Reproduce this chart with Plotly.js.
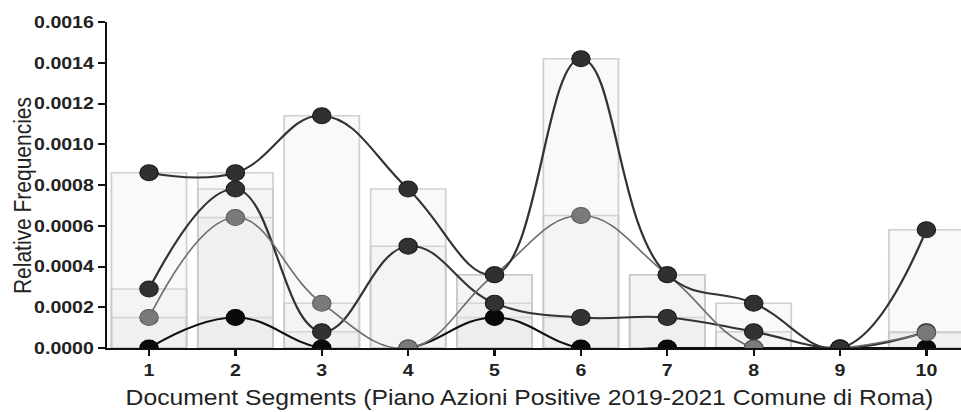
<!DOCTYPE html>
<html>
<head>
<meta charset="utf-8">
<script src="https://cdn.plot.ly/plotly-3.0.1.min.js"></script>
<style>
  html, body { margin: 0; padding: 0; background: #fff; }
  #wrap { width: 961px; height: 412px; overflow: hidden; position: relative; }
  #chart { width: 836px; height: 412px; transform: scaleX(1.15); transform-origin: 0 0; }
</style>
</head>
<body>
<div id="wrap"><div id="chart"></div></div>
<script>
// Document segments
const segments = [1, 2, 3, 4, 5, 6, 7, 8, 9, 10];
const tickLabelsY = ["0.0000", "0.0002", "0.0004", "0.0006", "0.0008", "0.0010", "0.0012", "0.0014", "0.0016"];
const tickValsY = [0, 0.0002, 0.0004, 0.0006, 0.0008, 0.0010, 0.0012, 0.0014, 0.0016];

// Relative frequencies per term
const termA = [0.00086, 0.00086, 0.00114, 0.00078, 0.00036, 0.00142, 0.00036, 0.00022, 0, 0.00058];
const termB = [0.00029, 0.00078, 0.00008, 0.00050, 0.00022, 0.00015, 0.00015, 0.00008, 0, 0.00008];
const termC = [0.00015, 0.00064, 0.00022, 0, 0.00036, 0.00065, 0.00036, 0, 0, 0.000075];
const termD = [0, 0.00015, 0, 0, 0.00015, 0, 0, 0, 0, 0];

const xTitle = "Document Segments (Piano Azioni Positive 2019-2021 Comune di Roma)";
const yTitle = "Relative Frequencies";

const series = [
  { name: "termD", y: termD, line: "#101010", lw: 2, mk: "#0a0a0a", mkl: "#000" },
  { name: "termB", y: termB, line: "#333333", lw: 2, mk: "#323232", mkl: "#1a1a1a" },
  { name: "termC", y: termC, line: "#6e6e6e", lw: 1.5, mk: "#7a7a7a", mkl: "#5a5a5a" },
  { name: "termA", y: termA, line: "#333333", lw: 2, mk: "#303030", mkl: "#1a1a1a" }
];

const traces = [];
series.forEach(s => {
  traces.push({
    type: "bar", x: segments, y: s.y, width: 0.87, showlegend: false, hoverinfo: "skip",
    marker: { color: "rgba(225,225,225,0.2)", line: { color: "rgba(200,200,200,0.85)", width: 1.5 } }
  });
});
series.forEach(s => {
  traces.push({
    type: "scatter", mode: "lines+markers", x: segments, y: s.y, name: s.name, showlegend: false,
    line: { shape: "spline", smoothing: 1.2, color: s.line, width: s.lw },
    marker: { size: 16, color: s.mk, line: { color: s.mkl, width: 1 } }
  });
});

const font = "Liberation Sans, Arial, Helvetica, sans-serif";
const layout = {
  width: 836, height: 412,
  margin: { l: 93, r: 0, t: 22, b: 64 },
  barmode: "overlay",
  paper_bgcolor: "#fff", plot_bgcolor: "#fff",
  showlegend: false,
  font: { family: font, color: "#222" },
  xaxis: {
    range: [0.513, 10.405], tickvals: segments, ticktext: segments.map(String),
    ticks: "outside", ticklen: 6, tickwidth: 2, tickcolor: "#111",
    showline: true, linecolor: "#111", linewidth: 2, showgrid: false, zeroline: false,
    tickfont: { family: font, size: 17, color: "#222", weight: "bold" }
  },
  yaxis: {
    range: [0, 0.0016], tickvals: tickValsY, ticktext: tickLabelsY,
    ticks: "outside", ticklen: 6, tickwidth: 2, tickcolor: "#111",
    showline: true, linecolor: "#111", linewidth: 2, showgrid: false, zeroline: false,
    tickfont: { family: font, size: 17, color: "#222", weight: "bold" }
  },
  annotations: [
    { text: xTitle, xref: "paper", yref: "paper", x: 0.495, y: -0.152, xanchor: "center", yanchor: "middle",
      showarrow: false, font: { family: font, size: 21.5, color: "#222" } },
    { text: yTitle, xref: "paper", yref: "paper", x: -0.0995, y: 0.466, xanchor: "center", yanchor: "middle",
      textangle: -90, showarrow: false, font: { family: font, size: 21, color: "#222" } }
  ]
};

Plotly.newPlot("chart", traces, layout, { displayModeBar: false, staticPlot: true });
</script>
</body>
</html>
